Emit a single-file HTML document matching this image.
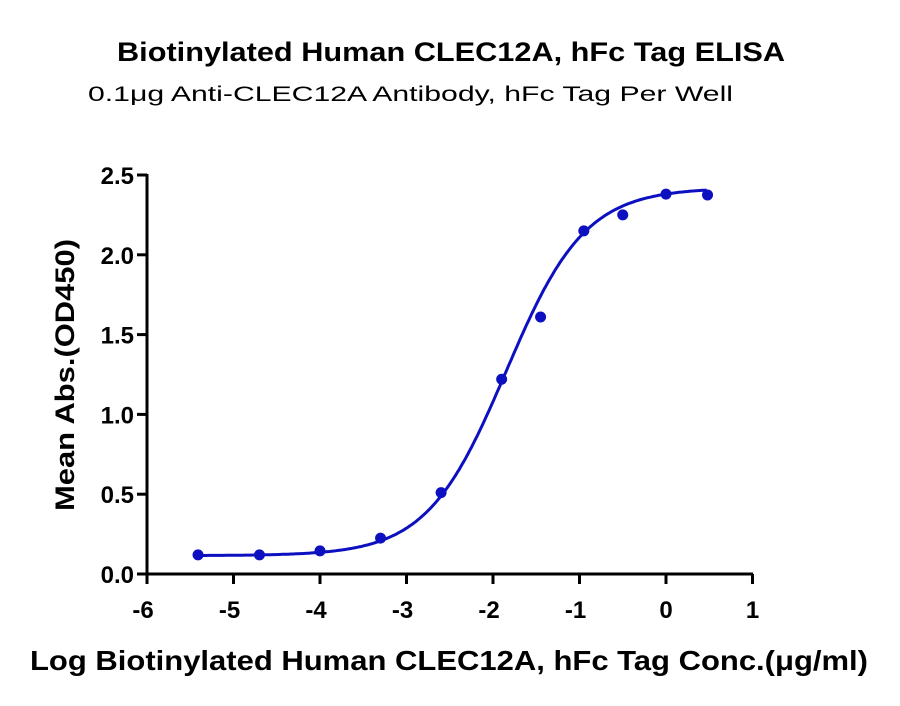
<!DOCTYPE html>
<html><head><meta charset="utf-8"><style>
body{margin:0;background:#fff;}
svg{display:block;font-family:"Liberation Sans",sans-serif;}
</style></head><body>
<svg id="s" width="900" height="706" viewBox="0 0 900 706">
<text x="117" y="61" font-size="27" font-weight="bold" textLength="668" lengthAdjust="spacingAndGlyphs">Biotinylated Human CLEC12A, hFc Tag ELISA</text>
<text x="88" y="101" font-size="21" textLength="645" lengthAdjust="spacingAndGlyphs">0.1μg Anti-CLEC12A Antibody, hFc Tag Per Well</text>
<g stroke="#000" stroke-width="3" fill="none">
<line x1="147" y1="174" x2="147" y2="575"/>
<line x1="146" y1="574" x2="753" y2="574"/>
</g>
<g id="ticks" stroke="#000" stroke-width="3"></g>
<g id="lbl" font-size="24" font-weight="bold"></g>
<text transform="translate(74,375) rotate(-90)" text-anchor="middle" font-size="27" font-weight="bold" textLength="272" lengthAdjust="spacingAndGlyphs">Mean Abs.(OD450)</text>
<text x="30" y="670" font-size="28" font-weight="bold" textLength="838" lengthAdjust="spacingAndGlyphs">Log Biotinylated Human CLEC12A, hFc Tag Conc.(μg/ml)</text>
<path id="curve" fill="none" stroke="#0d10c0" stroke-width="3"/>
<g id="pts" fill="#0d10c0"></g>
</svg>
<script>
var X=function(v){return 147+(v+6)*86.5},Y=function(v){return 574-v*159.6};
var t='',l='';
for(var i=-6;i<=1;i++){t+='<line x1="'+X(i)+'" y1="574" x2="'+X(i)+'" y2="584"/>';l+='<text x="'+(X(i)-(i<0?4:0))+'" y="618" text-anchor="middle">'+i+'</text>';}
for(var j=0;j<=5;j++){var v=j*0.5;t+='<line x1="137" y1="'+Y(v)+'" x2="147" y2="'+Y(v)+'"/>';l+='<text x="134" y="'+(Y(v)+9)+'" text-anchor="end">'+v.toFixed(1)+'</text>';}
document.getElementById('ticks').innerHTML=t;document.getElementById('lbl').innerHTML=l;
function f(x){return 0.115+2.305/(1+Math.pow(10,0.95*(-1.85-x)));}
var d='';for(var x=-5.41;x<=0.48;x+=0.02){d+=(d?'L':'M')+X(x).toFixed(1)+','+Y(f(x)).toFixed(1);}
document.getElementById('curve').setAttribute('d',d);
var P=[[-5.41,0.12],[-4.7,0.12],[-4,0.145],[-3.3,0.225],[-2.6,0.51],[-1.9,1.22],[-1.45,1.61],[-0.95,2.15],[-0.5,2.25],[0,2.38],[0.48,2.375]];
var p='';P.forEach(function(q){p+='<circle cx="'+X(q[0])+'" cy="'+Y(q[1])+'" r="5.5"/>';});
document.getElementById('pts').innerHTML=p;
</script>
</body></html>
